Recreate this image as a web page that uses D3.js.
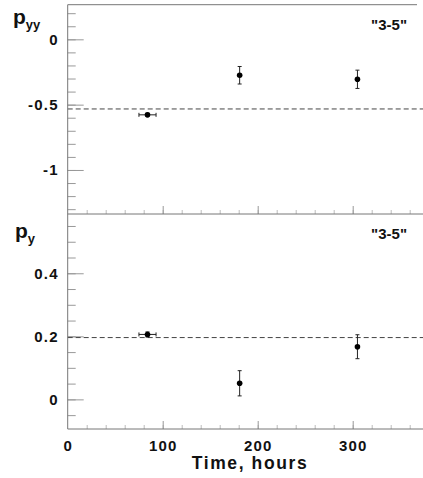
<!DOCTYPE html>
<html>
<head>
<meta charset="utf-8">
<script src="https://cdn.jsdelivr.net/npm/d3@7"></script>
<style>
  body { margin: 0; background: #fff; }
  svg { font-family: "Liberation Sans", Arial, sans-serif; }
</style>
</head>
<body>
<svg width="423" height="478"></svg>
<script>
// data
var timeHours = [84, 181, 305];
var timeErrors = [9, 0, 0];
var pyyValues = [-0.578, -0.275, -0.306];
var pyyErrors = [0.012, 0.067, 0.07];
var pyValues = [0.206, 0.051, 0.167];
var pyErrors = [0.008, 0.04, 0.038];
var pyyReference = -0.533;
var pyReference = 0.196;
var timeTicks = [0, 100, 200, 300];
var pyyTicks = [0, -0.5, -1];
var pyTicks = [0, 0.2, 0.4];
var panelTag = '"3-5"';

var svg = d3.select("svg"),
    left = 67.7, right = 423,
    topY = 4.7, midY = 214, bottomY = 429;

var x = d3.scaleLinear().domain([0, 374]).range([left, right]);

var yTop = d3.scaleLinear().domain([-1.337, 0.265]).range([midY, topY]);
var yBot = d3.scaleLinear().domain([-0.094, 0.588]).range([bottomY, midY]);

var axisColor = "#777", tickColor = "#999";

function plain(d) { return String(d); }

function styleLabels(a) {
  a.select(".domain").remove();
  a.selectAll("text").attr("font-size", 15).attr("font-weight", "bold").attr("fill", "#111")
    .attr("letter-spacing", 1.2)
    .attr("font-family", "Liberation Sans, Arial, sans-serif");
}

function panel(y, values, errors, ref, ticks, minorStep, y0, y1) {
  var g = svg.append("g");

  // minor + major ticks on the left (pointing inward)
  var minor = d3.range(Math.ceil(y.domain()[0] / minorStep), Math.floor(y.domain()[1] / minorStep) + 1)
      .map(function(i) { return +(i * minorStep).toFixed(3); });
  g.append("g")
      .attr("transform", "translate(" + left + ",0)")
      .call(d3.axisRight(y).tickValues(minor).tickSize(8).tickFormat(""))
      .call(function(a) { a.select(".domain").remove(); a.selectAll("line").attr("stroke", tickColor); });
  g.append("g")
      .attr("transform", "translate(" + left + ",0)")
      .call(d3.axisRight(y).tickValues(ticks).tickSize(16).tickFormat(""))
      .call(function(a) { a.select(".domain").remove(); a.selectAll("line").attr("stroke", tickColor); });
  g.append("g")
      .attr("transform", "translate(" + left + ",0)")
      .call(d3.axisLeft(y).tickValues(ticks).tickSize(0).tickPadding(9).tickFormat(plain))
      .call(styleLabels);

  // x ticks along panel bottom
  g.append("g")
      .attr("transform", "translate(0," + y1 + ")")
      .call(d3.axisTop(x).tickValues(d3.range(20, 374, 20)).tickSize(4).tickFormat(""))
      .call(function(a) { a.select(".domain").remove(); a.selectAll("line").attr("stroke", "#bbb"); });
  g.append("g")
      .attr("transform", "translate(0," + y1 + ")")
      .call(d3.axisTop(x).tickValues([100, 200, 300]).tickSize(8).tickFormat(""))
      .call(function(a) { a.select(".domain").remove(); a.selectAll("line").attr("stroke", tickColor); });

  // reference line
  g.append("line")
      .attr("x1", left).attr("x2", right)
      .attr("y1", y(ref)).attr("y2", y(ref))
      .attr("stroke", "#444").attr("stroke-width", 1)
      .attr("stroke-dasharray", "5,3");

  // error bars
  var pts = timeHours.map(function(t, i) { return {t: t, dt: timeErrors[i], v: values[i], e: errors[i]}; });
  var eb = g.append("g").attr("stroke", "#222").attr("stroke-width", 1);
  pts.forEach(function(d) {
    eb.append("line").attr("x1", x(d.t)).attr("x2", x(d.t)).attr("y1", y(d.v - d.e)).attr("y2", y(d.v + d.e));
    eb.append("line").attr("x1", x(d.t) - 2).attr("x2", x(d.t) + 2).attr("y1", y(d.v - d.e)).attr("y2", y(d.v - d.e));
    eb.append("line").attr("x1", x(d.t) - 2).attr("x2", x(d.t) + 2).attr("y1", y(d.v + d.e)).attr("y2", y(d.v + d.e));
    if (d.dt > 0) {
      eb.append("line").attr("x1", x(d.t - d.dt)).attr("x2", x(d.t + d.dt)).attr("y1", y(d.v)).attr("y2", y(d.v));
      eb.append("line").attr("x1", x(d.t - d.dt)).attr("x2", x(d.t - d.dt)).attr("y1", y(d.v) - 2).attr("y2", y(d.v) + 2);
      eb.append("line").attr("x1", x(d.t + d.dt)).attr("x2", x(d.t + d.dt)).attr("y1", y(d.v) - 2).attr("y2", y(d.v) + 2);
    }
  });
  g.selectAll("circle").data(pts).enter().append("circle")
      .attr("cx", function(d) { return x(d.t); })
      .attr("cy", function(d) { return y(d.v); })
      .attr("r", 2.8)
      .attr("fill", "#000");

  g.append("text")
      .attr("x", 407).attr("y", y0 + 25)
      .attr("text-anchor", "end")
      .attr("font-size", 15).attr("font-weight", "bold").attr("fill", "#111")
      .text(panelTag);
  return g;
}

panel(yTop, pyyValues, pyyErrors, pyyReference, pyyTicks, 0.1, topY, midY);
panel(yBot, pyValues, pyErrors, pyReference, pyTicks, 0.05, midY, bottomY);

// frame lines
svg.append("line").attr("x1", left).attr("x2", 417).attr("y1", topY).attr("y2", topY).attr("stroke", axisColor);
svg.append("line").attr("x1", left).attr("x2", right).attr("y1", midY).attr("y2", midY).attr("stroke", axisColor);
svg.append("line").attr("x1", left).attr("x2", right).attr("y1", bottomY).attr("y2", bottomY).attr("stroke", axisColor);
svg.append("line").attr("x1", left).attr("x2", left).attr("y1", topY).attr("y2", bottomY).attr("stroke", axisColor);

// x tick labels
svg.append("g")
    .attr("transform", "translate(0," + bottomY + ")")
    .call(d3.axisBottom(x).tickValues(timeTicks).tickSize(0).tickPadding(11).tickFormat(plain))
    .call(styleLabels);

svg.append("text")
    .attr("x", 250).attr("y", 469)
    .attr("text-anchor", "middle")
    .attr("font-size", 17.5).attr("font-weight", "bold").attr("fill", "#111")
    .attr("letter-spacing", 1.6)
    .text("Time, hours");

// y axis names
var lab1 = svg.append("text").attr("x", 13).attr("y", 24).attr("font-weight", "bold").attr("fill", "#111");
lab1.append("tspan").attr("font-size", 21).text("p");
lab1.append("tspan").attr("font-size", 13).attr("dy", 5).text("yy");
var lab2 = svg.append("text").attr("x", 15).attr("y", 238).attr("font-weight", "bold").attr("fill", "#111");
lab2.append("tspan").attr("font-size", 21).text("p");
lab2.append("tspan").attr("font-size", 13).attr("dy", 5).text("y");
</script>
</body>
</html>
